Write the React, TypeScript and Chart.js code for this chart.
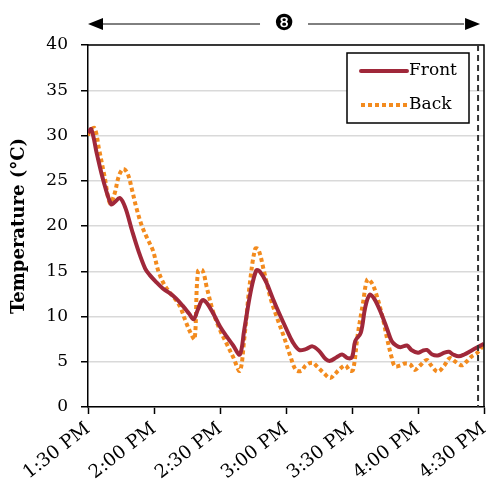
import React, { useEffect, useRef } from "react";
import { Chart, registerables } from "chart.js";

Chart.register(...registerables);

// minutes after 1:30 PM
const frontMinutes = [0, 1.5, 4, 7, 10.5, 12, 14.5, 17, 20, 23, 26, 28, 31, 34, 37, 40, 43, 46, 48, 50, 52, 54, 57, 60, 63, 66, 69, 71, 74, 76.5, 78, 81, 84, 87, 90, 93, 96, 99, 102, 105, 108, 110, 113, 115.5, 118, 120, 121.5, 124, 126, 128, 130, 133, 136, 138, 140, 142, 145, 147, 150, 152, 154, 156.5, 159, 162, 164, 166, 168.5, 171, 174, 177, 180];
const frontTemps = [30.3, 30.7, 28.0, 25.0, 22.4, 22.6, 23.1, 22.0, 19.5, 17.2, 15.3, 14.6, 13.8, 13.1, 12.6, 12.0, 11.2, 10.3, 9.7, 10.8, 11.8, 11.5, 10.3, 8.9, 7.8, 6.8, 5.8, 8.5, 12.8, 15.1, 15.0, 13.8, 12.0, 10.3, 8.7, 7.2, 6.3, 6.4, 6.7, 6.2, 5.3, 5.1, 5.5, 5.8, 5.4, 5.5, 7.3, 8.2, 11.0, 12.4, 12.0, 10.5, 8.6, 7.3, 6.8, 6.6, 6.8, 6.3, 6.0, 6.2, 6.3, 5.8, 5.7, 6.0, 6.1, 5.8, 5.6, 5.8, 6.2, 6.6, 7.0];

const backMinutes = [0, 1, 3, 5, 7.5, 10, 12, 14, 16, 18, 20, 22, 24.5, 27, 29.5, 32, 34.5, 37, 40, 42, 44.5, 47, 48.5, 50, 52, 54, 57, 60, 63, 66, 69, 71, 73.5, 76, 77.5, 80, 83, 86, 89, 92, 94.5, 97, 99, 102, 104, 107, 110, 112, 114.5, 117, 119, 120.5, 122.5, 125, 127, 129, 131, 134, 136, 138, 139.5, 142, 144, 146.5, 148.5, 151, 154, 156, 159, 162, 164.5, 167, 170, 172, 174.5, 177, 180];
const backTemps = [30.0, 30.6, 30.8, 28.5, 25.5, 22.5, 23.5, 25.5, 26.3, 25.8, 24.0, 22.0, 20.0, 18.6, 17.3, 15.0, 13.6, 12.7, 11.8, 11.0, 9.4, 8.0, 7.5, 15.0, 15.1, 13.2, 10.4, 8.5, 7.0, 5.5, 4.0, 7.5, 13.5, 17.5, 17.4, 15.0, 12.0, 9.8, 7.8, 5.6, 4.1, 4.0, 4.6, 4.9, 4.5, 3.8, 3.2, 3.6, 4.2, 4.6, 4.0, 4.1, 7.8, 11.5, 14.1, 13.7, 12.5, 9.8, 7.5, 5.5, 4.5, 4.6, 4.8, 4.7, 4.1, 4.6, 5.2, 4.6, 3.9, 4.6, 5.4, 5.0, 4.6, 5.0, 5.6, 6.0, 7.0];

const tickMinutes = [0, 30, 60, 90, 120, 150, 180];
const tickLabels = ["1:30 PM", "2:00 PM", "2:30 PM", "3:00 PM", "3:30 PM", "4:00 PM", "4:30 PM"];
const markerMinute = 177.3;
const periodLabel = "❽";
const seriesNames = ["Front", "Back"];
const yTitle = "Temperature (°C)";

const FRONT = "#A0283A";
const BACK = "#F38B1E";
const SERIF = "'DejaVu Serif', serif";

const overlayPlugin = {
  id: "overlay",
  afterDatasetsDraw(chart: any) {
    const { ctx, chartArea, scales } = chart;
    const { left, right, top, bottom } = chartArea;
    ctx.save();
    // box border
    ctx.strokeStyle = "#000";
    ctx.lineWidth = 1.5;
    ctx.setLineDash([]);
    ctx.beginPath();
    ctx.moveTo(left, top);
    ctx.lineTo(right, top);
    ctx.lineTo(right, bottom);
    ctx.stroke();
    // dashed marker
    const mx = scales.x.getPixelForValue(markerMinute);
    ctx.strokeStyle = "#333";
    ctx.lineWidth = 2;
    ctx.setLineDash([6, 4]);
    ctx.beginPath();
    ctx.moveTo(mx, top);
    ctx.lineTo(mx, bottom);
    ctx.stroke();
    ctx.setLineDash([]);
    // legend
    const bx = right - 137, by = top + 8, bw = 122, bh = 70;
    ctx.fillStyle = "#fff";
    ctx.fillRect(bx, by, bw, bh);
    ctx.strokeStyle = "#000";
    ctx.lineWidth = 1.5;
    ctx.strokeRect(bx, by, bw, bh);
    const rows = [
      { name: seriesNames[0], color: FRONT, dash: [] as number[], y: by + 18 },
      { name: seriesNames[1], color: BACK, dash: [4, 3], y: by + 52 },
    ];
    ctx.font = `17px ${SERIF}`;
    ctx.textBaseline = "middle";
    ctx.textAlign = "left";
    for (const r of rows) {
      ctx.strokeStyle = r.color;
      ctx.lineWidth = 4;
      ctx.setLineDash(r.dash);
      ctx.lineCap = r.dash.length ? "butt" : "round";
      ctx.beginPath();
      ctx.moveTo(bx + 14, r.y);
      ctx.lineTo(bx + 60, r.y);
      ctx.stroke();
      ctx.setLineDash([]);
      ctx.fillStyle = "#000";
      ctx.fillText(r.name, bx + 62, r.y);
    }
    // top arrow
    const ay = 24;
    const cx = (left + mx) / 2 + 1;
    ctx.strokeStyle = "#000";
    ctx.fillStyle = "#000";
    ctx.lineWidth = 1;
    ctx.beginPath();
    ctx.moveTo(left + 14, ay);
    ctx.lineTo(cx - 24, ay);
    ctx.moveTo(cx + 24, ay);
    ctx.lineTo(mx - 14, ay);
    ctx.stroke();
    ctx.beginPath();
    ctx.moveTo(left, ay);
    ctx.lineTo(left + 15, ay - 6);
    ctx.lineTo(left + 15, ay + 6);
    ctx.closePath();
    ctx.fill();
    ctx.beginPath();
    ctx.moveTo(mx + 2, ay);
    ctx.lineTo(mx - 13, ay - 6);
    ctx.lineTo(mx - 13, ay + 6);
    ctx.closePath();
    ctx.fill();
    ctx.font = `22px 'DejaVu Sans', sans-serif`;
    ctx.textAlign = "center";
    ctx.textBaseline = "middle";
    ctx.fillText(periodLabel, cx, ay);
    ctx.restore();
  },
};

export default function App() {
  const ref = useRef<HTMLCanvasElement | null>(null);
  useEffect(() => {
    if (!ref.current) return;
    const chart = new Chart(ref.current, {
      type: "line",
      data: {
        datasets: [
          {
            label: seriesNames[0],
            data: frontMinutes.map((m, i) => ({ x: m, y: frontTemps[i] })),
            borderColor: FRONT,
            borderWidth: 4,
            pointRadius: 0,
            tension: 0.35,
            fill: false,
          },
          {
            label: seriesNames[1],
            data: backMinutes.map((m, i) => ({ x: m, y: backTemps[i] })),
            borderColor: BACK,
            borderWidth: 4,
            borderDash: [4, 3],
            pointRadius: 0,
            tension: 0.35,
            fill: false,
          },
        ],
      },
      options: {
        animation: false,
        responsive: false,
        layout: { padding: { top: 45, right: 5, left: 0, bottom: 0 } },
        plugins: { legend: { display: false }, tooltip: { enabled: false } },
        scales: {
          x: {
            type: "linear",
            min: 0,
            max: 180,
            afterBuildTicks: (s: any) => {
              s.ticks = tickMinutes.map((v) => ({ value: v }));
            },
            afterFit: (s: any) => {
              s.height = 81;
              s.paddingRight = 0;
              s.paddingLeft = 0;
            },
            border: { color: "#000", width: 1.5 },
            grid: { drawOnChartArea: false, drawTicks: true, tickLength: 7, tickColor: "#000", tickWidth: 1.5 },
            ticks: {
              autoSkip: false,
              maxRotation: 38,
              minRotation: 38,
              padding: 4,
              color: "#000",
              font: { family: SERIF, size: 18.5 },
              callback: (v: any) => {
                const i = tickMinutes.indexOf(Number(v));
                return i >= 0 ? tickLabels[i] : "";
              },
            },
          },
          y: {
            min: 0,
            max: 40,
            afterFit: (s: any) => {
              s.width = 88;
            },
            border: { color: "#000", width: 1.5 },
            grid: { color: "#d9d9d9", lineWidth: 1.5, tickLength: 7, tickColor: "#000", tickWidth: 1.5 },
            ticks: { stepSize: 5, padding: 13, color: "#000", font: { family: SERIF, size: 17 } },
            title: {
              display: true,
              text: yTitle,
              color: "#000",
              padding: { top: 9, bottom: 0 },
              font: { family: SERIF, size: 18, weight: "bold" },
            },
          },
        },
      },
      plugins: [overlayPlugin],
    });
    return () => chart.destroy();
  }, []);
  return (
    <div style={{ position: "fixed", left: 0, top: 0, width: 489, height: 488, background: "#fff" }}>
      <canvas ref={ref} width={489} height={488} style={{ display: "block", width: 489, height: 488 }} />
    </div>
  );
}
